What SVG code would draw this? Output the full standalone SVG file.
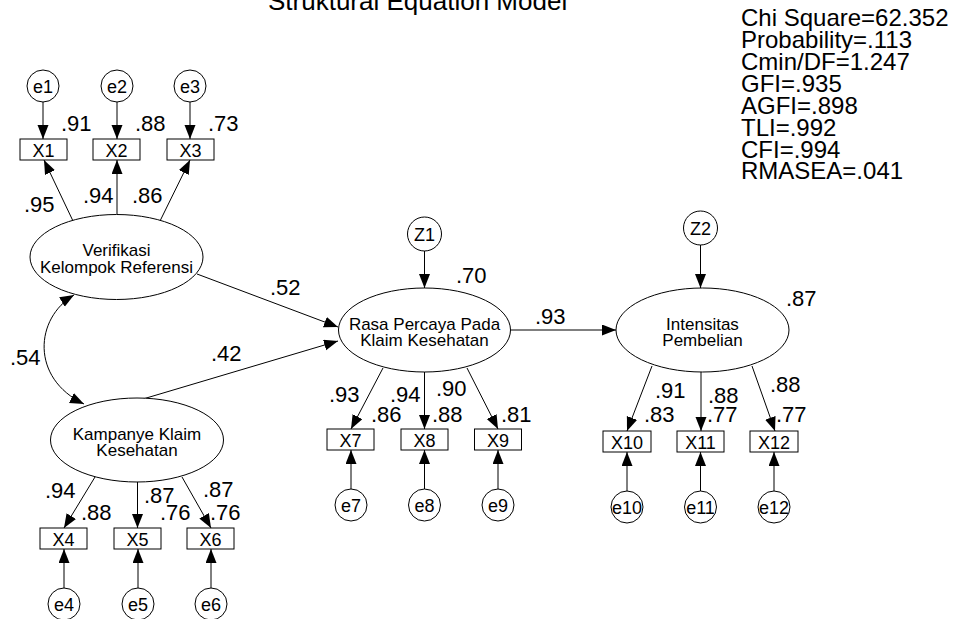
<svg xmlns="http://www.w3.org/2000/svg" width="958" height="619" viewBox="0 0 958 619">
  <style>
    text { font-family: "Liberation Sans", Arial, sans-serif; fill: #000; }
    .title { font-size: 26px; }
    .fit { font-size: 24px; }
    .lbl { font-size: 22px; }
    .sm { font-size: 18px; text-anchor: middle; }
    .lat { font-size: 17px; text-anchor: middle; }
    .shape { fill: #fff; stroke: #000; stroke-width: 1; }
    .edge { fill: none; stroke: #000; stroke-width: 1; }
  </style>
  <defs>
    <marker id="arrow" markerUnits="userSpaceOnUse" markerWidth="14" markerHeight="12" refX="14" refY="5.5" orient="auto-start-reverse">
      <path d="M0,0 L14,5.5 L0,11 z" fill="#000"/>
    </marker>
  </defs>
  <rect width="958" height="619" fill="#fff"/>

  <text class="title" x="268" y="10">Struktural Equation Model</text>

  <g id="fit-indices" class="fit">
    <text x="741" y="26">Chi Square=62.352</text>
    <text x="741" y="48">Probability=.113</text>
    <text x="741" y="70">Cmin/DF=1.247</text>
    <text x="741" y="92">GFI=.935</text>
    <text x="741" y="114">AGFI=.898</text>
    <text x="741" y="136">TLI=.992</text>
    <text x="741" y="158">CFI=.994</text>
    <text x="741" y="179">RMASEA=.041</text>
  </g>

  <!-- connectors -->
  <g id="connectors" class="edge" marker-end="url(#arrow)">
    <!-- errors to indicators -->
    <line x1="43" y1="102" x2="43" y2="139"/>
    <line x1="117" y1="102" x2="117" y2="139"/>
    <line x1="190" y1="102" x2="190" y2="139"/>
    <line x1="64" y1="588" x2="64" y2="549"/>
    <line x1="138" y1="588" x2="138" y2="549"/>
    <line x1="211" y1="588" x2="211" y2="549"/>
    <line x1="351" y1="489" x2="351" y2="450"/>
    <line x1="424.5" y1="489" x2="424.5" y2="450"/>
    <line x1="498" y1="489" x2="498" y2="450"/>
    <line x1="627" y1="491" x2="627" y2="452"/>
    <line x1="700.5" y1="491" x2="700.5" y2="452"/>
    <line x1="774" y1="491" x2="774" y2="452"/>
    <!-- disturbances -->
    <line x1="424.5" y1="251" x2="424.5" y2="288"/>
    <line x1="700.5" y1="245" x2="700.5" y2="288"/>
    <!-- loadings -->
    <line x1="73" y1="221" x2="44" y2="160"/>
    <line x1="117" y1="214" x2="117" y2="160"/>
    <line x1="160" y1="221" x2="190" y2="160"/>
    <line x1="95" y1="477" x2="64" y2="528"/>
    <line x1="137.5" y1="482" x2="137.5" y2="528"/>
    <line x1="182" y1="477" x2="211" y2="528"/>
    <line x1="383" y1="368" x2="351" y2="429"/>
    <line x1="424.5" y1="372" x2="424.5" y2="429"/>
    <line x1="467" y1="368" x2="498" y2="429"/>
    <line x1="652" y1="366" x2="627" y2="431"/>
    <line x1="701" y1="372" x2="701" y2="431"/>
    <line x1="752" y1="366" x2="775" y2="431"/>
    <!-- structural paths -->
    <line x1="197" y1="274" x2="338" y2="327"/>
    <line x1="143" y1="399" x2="338" y2="341"/>
    <line x1="511" y1="330" x2="616" y2="330"/>
    <!-- covariance -->
    <path d="M74,295 C35,318 30,378 84,404" marker-start="url(#arrow)"/>
  </g>

  <!-- latent variables -->
  <g id="verifikasi">
    <ellipse class="shape" cx="116.5" cy="257" rx="86.5" ry="42.5"/>
    <text class="lat" x="116.5" y="256">Verifikasi</text>
    <text class="lat" x="116.5" y="273">Kelompok Referensi</text>
  </g>
  <g id="kampanye">
    <ellipse class="shape" cx="137" cy="440" rx="86.5" ry="42"/>
    <text class="lat" x="137" y="440">Kampanye Klaim</text>
    <text class="lat" x="137" y="456">Kesehatan</text>
  </g>
  <g id="rasa-percaya">
    <ellipse class="shape" cx="424.5" cy="330" rx="86" ry="42"/>
    <text class="lat" x="424.5" y="329.5">Rasa Percaya Pada</text>
    <text class="lat" x="424.5" y="346">Klaim Kesehatan</text>
  </g>
  <g id="intensitas">
    <ellipse class="shape" cx="702.5" cy="330" rx="86.5" ry="42"/>
    <text class="lat" x="702.5" y="329.5">Intensitas</text>
    <text class="lat" x="702.5" y="346">Pembelian</text>
  </g>

  <!-- disturbances -->
  <g id="z1"><circle class="shape" cx="424.5" cy="234" r="17"/><text class="sm" x="424.5" y="241">Z1</text></g>
  <g id="z2"><circle class="shape" cx="700.5" cy="228" r="17"/><text class="sm" x="700.5" y="235">Z2</text></g>

  <!-- indicators -->
  <g id="x1"><rect class="shape" x="20" y="139" width="47" height="21"/><text class="sm" x="43.5" y="157">X1</text></g>
  <g id="x2"><rect class="shape" x="93" y="139" width="47" height="21"/><text class="sm" x="116.5" y="157">X2</text></g>
  <g id="x3"><rect class="shape" x="167" y="139" width="47" height="21"/><text class="sm" x="190.5" y="157">X3</text></g>
  <g id="x4"><rect class="shape" x="40" y="528" width="47" height="21"/><text class="sm" x="63.5" y="546">X4</text></g>
  <g id="x5"><rect class="shape" x="114" y="528" width="47" height="21"/><text class="sm" x="137.5" y="546">X5</text></g>
  <g id="x6"><rect class="shape" x="187" y="528" width="47" height="21"/><text class="sm" x="210.5" y="546">X6</text></g>
  <g id="x7"><rect class="shape" x="327" y="429" width="47" height="21"/><text class="sm" x="350.5" y="447">X7</text></g>
  <g id="x8"><rect class="shape" x="401" y="429" width="47" height="21"/><text class="sm" x="424.5" y="447">X8</text></g>
  <g id="x9"><rect class="shape" x="474.5" y="429" width="47" height="21"/><text class="sm" x="498" y="447">X9</text></g>
  <g id="x10"><rect class="shape" x="603" y="431" width="48" height="21"/><text class="sm" x="627" y="449">X10</text></g>
  <g id="x11"><rect class="shape" x="677" y="431" width="47" height="21"/><text class="sm" x="700.5" y="449">X11</text></g>
  <g id="x12"><rect class="shape" x="750" y="431" width="48" height="21"/><text class="sm" x="774" y="449">X12</text></g>

  <!-- error terms -->
  <g id="e1"><circle class="shape" cx="43" cy="86" r="16"/><text class="sm" x="43" y="93">e1</text></g>
  <g id="e2"><circle class="shape" cx="117" cy="86" r="16"/><text class="sm" x="117" y="93">e2</text></g>
  <g id="e3"><circle class="shape" cx="190" cy="86" r="16"/><text class="sm" x="190" y="93">e3</text></g>
  <g id="e4"><circle class="shape" cx="64" cy="604" r="16"/><text class="sm" x="64" y="611">e4</text></g>
  <g id="e5"><circle class="shape" cx="138" cy="604" r="16"/><text class="sm" x="138" y="611">e5</text></g>
  <g id="e6"><circle class="shape" cx="211" cy="604" r="16"/><text class="sm" x="211" y="611">e6</text></g>
  <g id="e7"><circle class="shape" cx="351" cy="505" r="16"/><text class="sm" x="351" y="512">e7</text></g>
  <g id="e8"><circle class="shape" cx="424.5" cy="505" r="16"/><text class="sm" x="424.5" y="512">e8</text></g>
  <g id="e9"><circle class="shape" cx="498" cy="505" r="16"/><text class="sm" x="498" y="512">e9</text></g>
  <g id="e10"><circle class="shape" cx="627" cy="507" r="16"/><text class="sm" x="627" y="514">e10</text></g>
  <g id="e11"><circle class="shape" cx="700.5" cy="507" r="16"/><text class="sm" x="700.5" y="514">e11</text></g>
  <g id="e12"><circle class="shape" cx="774" cy="507" r="16"/><text class="sm" x="774" y="514">e12</text></g>

  <!-- estimates -->
  <g id="estimates" class="lbl">
    <text x="61" y="131">.91</text>
    <text x="135" y="131">.88</text>
    <text x="208" y="131">.73</text>
    <text x="24" y="212">.95</text>
    <text x="83" y="203">.94</text>
    <text x="132" y="203">.86</text>
    <text x="270" y="295">.52</text>
    <text x="211" y="361">.42</text>
    <text x="10" y="365">.54</text>
    <text x="456" y="283">.70</text>
    <text x="535" y="324">.93</text>
    <text x="786" y="306">.87</text>
    <text x="329" y="402">.93</text>
    <text x="371" y="422">.86</text>
    <text x="390" y="402">.94</text>
    <text x="432" y="422">.88</text>
    <text x="436" y="396">.90</text>
    <text x="501" y="422">.81</text>
    <text x="655" y="398">.91</text>
    <text x="644" y="422">.83</text>
    <text x="708" y="403">.88</text>
    <text x="707" y="422">.77</text>
    <text x="770" y="392">.88</text>
    <text x="776" y="422">.77</text>
    <text x="45" y="498">.94</text>
    <text x="81" y="520">.88</text>
    <text x="144" y="503">.87</text>
    <text x="160" y="520">.76</text>
    <text x="203" y="497">.87</text>
    <text x="210" y="520">.76</text>
  </g>
</svg>
